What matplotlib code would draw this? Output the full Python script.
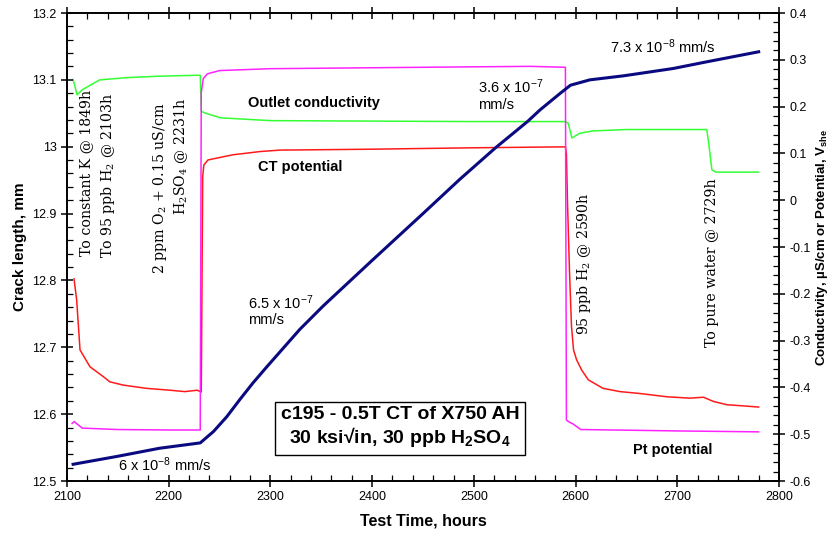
import matplotlib
matplotlib.use('Agg')
import matplotlib.pyplot as plt
from matplotlib.ticker import MultipleLocator, FormatStrFormatter

plt.rcParams['font.family'] = ['Liberation Sans', 'DejaVu Sans']
plt.rcParams['mathtext.default'] = 'regular'
plt.rcParams['axes.unicode_minus'] = False

# crack length, mm (left axis)
crack_t = [2106, 2150, 2191, 2231, 2244, 2257, 2270, 2283, 2296, 2329, 2352,
           2400, 2450, 2486, 2521, 2553, 2565, 2585, 2595, 2614, 2647, 2696,
           2729, 2780]
crack_mm = [12.525, 12.537, 12.549, 12.557, 12.574, 12.596, 12.622, 12.647,
            12.670, 12.727, 12.762, 12.830, 12.900, 12.951, 12.998, 13.038,
            13.055, 13.080, 13.092, 13.100, 13.106, 13.117, 13.127, 13.142]

# outlet conductivity, uS/cm (right axis)
cond_t = [2106, 2110, 2115, 2132, 2159, 2191, 2229, 2231, 2232, 2236, 2251,
          2300, 2400, 2500, 2590, 2592.6, 2596.5, 2604, 2617, 2650, 2700,
          2729, 2731, 2734, 2738, 2780]
cond = [0.258, 0.225, 0.236, 0.257, 0.262, 0.265, 0.267, 0.267, 0.19, 0.186,
        0.176, 0.170, 0.169, 0.168, 0.168, 0.165, 0.133, 0.143, 0.148, 0.151,
        0.151, 0.151, 0.12, 0.065, 0.06, 0.06]

# CT potential, V_she (right axis)
ct_t = [2106.9, 2109.5, 2112.8, 2122.6, 2135.7, 2142, 2155, 2178, 2201, 2216,
        2228, 2232, 2233.4, 2234.5, 2238.6, 2263, 2290, 2309, 2400, 2500,
        2590, 2591, 2592, 2594, 2596, 2598, 2601, 2606, 2612.6, 2627, 2643.7,
        2663, 2689.7, 2712.6, 2725.8, 2735.5, 2748.6, 2768, 2780]
ct_pot = [-0.168, -0.213, -0.320, -0.356, -0.377, -0.388, -0.395, -0.402,
          -0.406, -0.409, -0.406, -0.410, 0.05, 0.075, 0.086, 0.097, 0.104,
          0.107, 0.109, 0.112, 0.114, 0.10, 0.0, -0.15, -0.27, -0.32, -0.341,
          -0.363, -0.384, -0.402, -0.409, -0.413, -0.420, -0.423, -0.421,
          -0.430, -0.437, -0.440, -0.442]

# Pt potential, V_she (right axis)
pt_t = [2105, 2107, 2115, 2150, 2200, 2231, 2232, 2234, 2238, 2250, 2300,
        2400, 2500, 2555, 2590, 2591, 2594.5, 2597.5, 2605, 2700, 2780]
pt_pot = [-0.477, -0.473, -0.487, -0.490, -0.491, -0.491, 0.23, 0.26, 0.27,
          0.277, 0.281, 0.283, 0.285, 0.286, 0.284, -0.470, -0.475, -0.478,
          -0.490, -0.493, -0.495]

fig = plt.figure(figsize=(8.35, 5.34), dpi=100)
ax = fig.add_axes([67 / 835, 53 / 534, 712 / 835, 468 / 534])
ax2 = ax.twinx()
ax.set_zorder(ax2.get_zorder() + 1)
ax.patch.set_visible(False)

ax2.plot(cond_t, cond, color='#33ff33', lw=1.1)
ax2.plot(ct_t, ct_pot, color='#ff1a1a', lw=1.1)
ax2.plot(pt_t, pt_pot, color='#ff22ff', lw=1.1)
ax.plot(crack_t, crack_mm, color='#0a0a80', lw=2.2)

ax.set_xlim(2100, 2800)
ax.set_ylim(12.5, 13.2)
ax2.set_ylim(-0.6, 0.4)

ax.xaxis.set_major_locator(MultipleLocator(100))
ax.xaxis.set_minor_locator(MultipleLocator(20))
ax.yaxis.set_major_locator(MultipleLocator(0.1))
ax.yaxis.set_minor_locator(MultipleLocator(0.02))
ax2.yaxis.set_major_locator(MultipleLocator(0.1))
ax2.yaxis.set_minor_locator(MultipleLocator(0.02))
ax.yaxis.set_major_formatter(FormatStrFormatter('%g'))
ax2.yaxis.set_major_formatter(FormatStrFormatter('%g'))

ax.tick_params(which='major', direction='inout', length=8, width=1.1,
               labelsize=9, top=True, right=False)
ax.tick_params(which='minor', direction='in', length=4, width=0.9,
               top=True, right=False)
ax2.tick_params(which='major', direction='inout', length=8, width=1.1,
                labelsize=9)
ax2.tick_params(which='minor', direction='in', length=4, width=0.9)
for a in (ax, ax2):
    for s in a.spines.values():
        s.set_linewidth(1.2)

ax.set_xlabel('Test Time, hours', fontsize=11.5, fontweight='bold', labelpad=7)
ax.set_ylabel('Crack length, mm', fontsize=11, fontweight='bold', labelpad=4)
ax2.set_ylabel('Conductivity, µS/cm or Potential, V$_{she}$', fontsize=9.5,
               fontweight='bold', labelpad=2)

# curve labels
ax2.text(2278, 0.208, 'Outlet conductivity', fontsize=10.5, fontweight='bold',
         va='center')
ax2.text(2288, 0.071, 'CT potential', fontsize=10.5, fontweight='bold',
         va='center')
ax2.text(2656, -0.534, 'Pt potential', fontsize=10.5, fontweight='bold',
         va='center')

# growth rates
ax2.text(2504, 0.242, '3.6 x 10$^{-7}$', fontsize=10.5, va='center')
ax2.text(2504, 0.203, 'mm/s', fontsize=10.5, va='center')
ax2.text(2278, -0.218, '6.5 x 10$^{-7}$', fontsize=10.5, va='center')
ax2.text(2278, -0.256, 'mm/s', fontsize=10.5, va='center')
ax2.text(2634, 0.327, '7.3 x 10$^{-8}$ mm/s', fontsize=10.5, va='center')
ax2.text(2150, -0.566, '6 x 10$^{-8}$ mm/s', fontsize=10.5, va='center')

# environment changes
serif = dict(family='DejaVu Serif', fontsize=10.2, rotation=90, ha='center',
             va='top')
ax2.text(2119, 0.2355, 'To constant K @ 1849h', **serif)
ax2.text(2140.5, 0.229, 'To 95 ppb H$_2$ @ 2103h', **serif)
ax2.text(2191, 0.208, '2 ppm O$_2$ + 0.15 uS/cm', **serif)
ax2.text(2212.6, 0.218, 'H$_2$SO$_4$ @ 2231h', **serif)
ax2.text(2608.3, 0.0175, '95 ppb H$_2$ @ 2590h', **serif)
ax2.text(2734.2, 0.0474, 'To pure water @ 2729h', **serif)

ax2.text(2427.4, -0.4857, 'c195 - 0.5T CT of X750 AH\n30 ksi√in, 30 ppb H$_2$SO$_4$',
         fontsize=14, fontweight='bold', ha='center', va='center',
         linespacing=1.15,
         bbox=dict(boxstyle='square,pad=0.27', fc='white', ec='black', lw=1))

fig.savefig('out.png', dpi=100)
